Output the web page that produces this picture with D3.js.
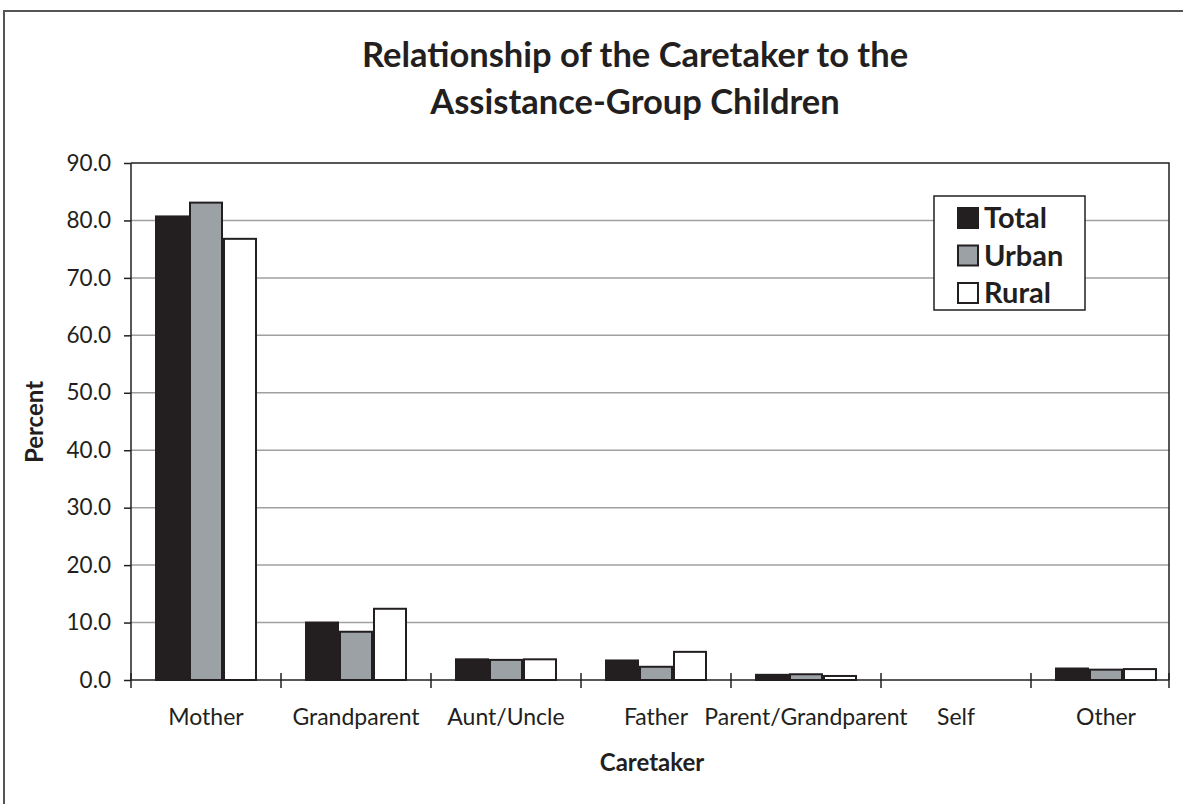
<!DOCTYPE html>
<html><head><meta charset="utf-8">
<script src="https://cdn.jsdelivr.net/npm/d3@7"></script>
<style>body{margin:0;background:#fff}svg{display:block}text{font-family:Lato,"Open Sans",sans-serif;fill:#231f20}</style>
</head><body><svg id="c" width="1183" height="804"></svg>
<script>
const categories = ["Mother","Grandparent","Aunt/Uncle","Father","Parent/Grandparent","Self","Other"];
const seriesNames = ["Total","Urban","Rural"];
const total = [80.7, 10.0, 3.6, 3.4, 0.9, 0, 2.0];
const urban = [83.1, 8.4, 3.5, 2.3, 1.0, 0, 1.8];
const rural = [76.8, 12.4, 3.6, 4.9, 0.7, 0, 1.9];
const yTicks = [0,10,20,30,40,50,60,70,80,90];
const colors = ["#231f20","#9ca1a6","#ffffff"];

const svg = d3.select("#c");
const L = 131, T = 163, B = 680, Rb = 1169, band = 150;
const x = d3.scaleBand().domain(categories).range([L, L + band*categories.length]);
const xs = d3.scaleBand().domain(seriesNames).range([0, 102]);
const y = d3.scaleLinear().domain([0,90]).range([B, T]);

// outer frame
svg.append("path").attr("d",`M4,804 V11 H1183`).attr("fill","none").attr("stroke","#555").attr("stroke-width",2);

// title
svg.append("text").attr("x",635).attr("y",67).attr("text-anchor","middle").attr("font-size",34.5).attr("font-weight","bold").text("Relationship of the Caretaker to the");
svg.append("text").attr("x",635).attr("y",114).attr("text-anchor","middle").attr("font-size",34.5).attr("font-weight","bold").text("Assistance-Group Children");

// gridlines
svg.append("g").selectAll("line").data(yTicks.filter(d=>d>0 && d<90)).join("line")
  .attr("x1",L).attr("x2",Rb).attr("y1",d=>y(d)).attr("y2",d=>y(d)).attr("stroke","#a0a0a0").attr("stroke-width",1.5);

// plot border top & right
svg.append("path").attr("d",`M${L},${y(90)} H${Rb} V${B}`).attr("fill","none").attr("stroke","#231f20").attr("stroke-width",1.5);

// bars
const data = [total, urban, rural];
const g = svg.append("g");
seriesNames.forEach((s,si)=>{
  g.selectAll(null).data(categories.map((c,i)=>({c, v:data[si][i]})).filter(d=>d.v>0)).join("rect")
   .attr("x",d=>x(d.c)+24+xs(s)+1).attr("width",xs.bandwidth()-2)
   .attr("y",d=>y(d.v)).attr("height",d=>B-y(d.v))
   .attr("fill",colors[si]).attr("stroke","#231f20").attr("stroke-width",2);
});

// y axis
const ya = d3.axisLeft(y).tickValues(yTicks).tickFormat(d3.format(".1f")).tickSize(7).tickPadding(13);
const yg = svg.append("g").attr("transform",`translate(${L},0)`).call(ya);
yg.select(".domain").remove();
yg.append("line").attr("x1",0).attr("x2",0).attr("y1",T).attr("y2",B).attr("stroke","#231f20").attr("stroke-width",1.5);
yg.selectAll(".tick line").attr("stroke","#231f20").attr("stroke-width",1.5);
yg.selectAll(".tick text").attr("font-size",22.5).style("font-family","Lato,sans-serif").attr("fill","#231f20");

// x axis
svg.append("line").attr("x1",L).attr("x2",Rb).attr("y1",B).attr("y2",B).attr("stroke","#231f20").attr("stroke-width",1.5);
const bounds = categories.map(c=>x(c)).concat([Rb]);
svg.append("g").selectAll("line").data(bounds).join("line")
  .attr("x1",d=>d).attr("x2",d=>d).attr("y1",B-7).attr("y2",B+8).attr("stroke","#231f20").attr("stroke-width",1.5);
svg.append("g").selectAll("text").data(categories).join("text")
  .attr("x",d=>x(d)+band/2).attr("y",B+45).attr("text-anchor","middle").attr("font-size",23).text(d=>d);

// axis titles
svg.append("text").attr("x",652).attr("y",771).attr("text-anchor","middle").attr("font-size",24).attr("font-weight","bold").text("Caretaker");
svg.append("text").attr("transform","translate(43,422) rotate(-90)").attr("text-anchor","middle").attr("font-size",24).attr("font-weight","bold").text("Percent");

// legend
const lg = svg.append("g").attr("transform","translate(934,196)");
lg.append("rect").attr("width",151).attr("height",114).attr("fill","#fff").attr("stroke","#231f20").attr("stroke-width",1.5);
seriesNames.forEach((s,i)=>{
  lg.append("rect").attr("x",24).attr("y",12+i*37.5).attr("width",20).attr("height",20).attr("fill",colors[i]).attr("stroke","#231f20").attr("stroke-width",2);
  lg.append("text").attr("x",50).attr("y",32+i*37.5).attr("font-size",29).attr("font-weight","bold").text(s);
});
</script></body></html>
